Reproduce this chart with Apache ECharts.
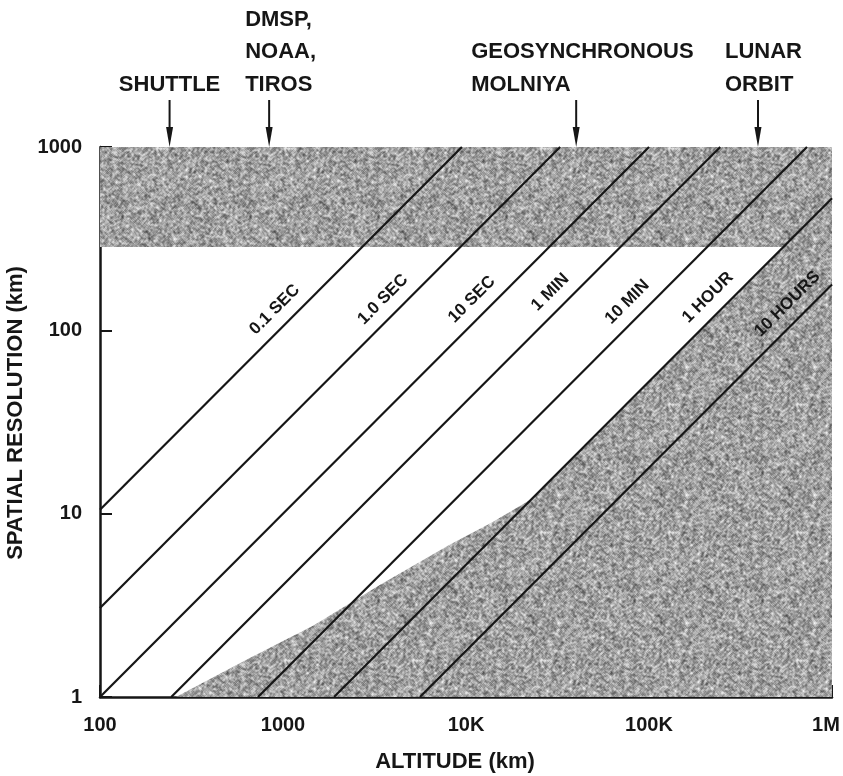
<!DOCTYPE html>
<html>
<head>
<meta charset="utf-8">
<title>Spatial resolution vs altitude</title>
<script src="https://cdn.jsdelivr.net/npm/echarts@6/dist/echarts.min.js"></script>
<style>
  html, body { margin: 0; padding: 0; background: #ffffff; }
  #chart { width: 843px; height: 776px; }
</style>
</head>
<body>
<div id="chart"></div>
<script>
// Lines of constant revisit/dwell time: each runs between two (altitude km, resolution km) points
const lineNames = ['0.1 SEC', '1.0 SEC', '10 SEC', '1 MIN', '10 MIN', '1 HOUR', '10 HOURS'];
const lineStart = [[100, 10.5], [100, 3.06], [100, 1], [245, 1], [730, 1], [1900, 1], [5600, 1]];
const lineEnd = [[9500, 1000], [32700, 1000], [100000, 1000], [245000, 1000], [730000, 1000], [1000000, 526], [1000000, 178]];
// resolution at which each line's caption sits
const labelRes = [111, 126, 126, 138, 122, 129, 119];

// Shaded (excluded) regions, as (altitude, resolution) outlines
const upperBand = [[100, 285], [1000000, 285], [1000000, 1000], [100, 1000]];
const lowerRegion = [[260, 1], [635, 1.6], [1460, 2.45], [3400, 4.1], [8000, 6.7], [14000, 9.0],
  [22500, 11.9], [541000, 285], [1000000, 285], [1000000, 1]];

// Orbit markers along the top edge
const orbitNames = ['SHUTTLE', 'DMSP,\nNOAA,\nTIROS', 'GEOSYNCHRONOUS\nMOLNIYA', 'LUNAR\nORBIT'];
const orbitAltitudes = [240, 840, 40000, 394000];

// Axis ticks
const xTickValues = [100, 1000, 10000, 100000, 1000000];
const xTickLabels = ['100', '1000', '10K', '100K', '1M'];
const yTickValues = [1, 10, 100, 1000];
const yTickLabels = ['1', '10', '100', '1000'];

const FONT = '"Liberation Sans", Arial, Helvetica, sans-serif';
const INK = '#161616';

// text placement of orbit captions relative to their arrow
const orbitTextStyle = [
  { dx: 0, align: 'center' },
  { dx: -24, align: 'left' },
  { dx: -105, align: 'left' },
  { dx: -33, align: 'left' }
];

// Halftone-like grey screen used for the shaded regions (deterministic hash grain)
function makeScreen() {
  const size = 128;
  const c = document.createElement('canvas');
  c.width = size; c.height = size;
  const ctx = c.getContext('2d');
  const img = ctx.createImageData(size, size);
  const hash = (x, y) => {
    let h = (Math.imul(x, 0x27d4eb2d) + Math.imul(y, 0x165667b1)) | 0;
    h = Math.imul(h ^ (h >>> 15), 0x85ebca6b);
    h = Math.imul(h ^ (h >>> 13), 0xc2b2ae35);
    h ^= h >>> 16;
    return (h >>> 0) / 4294967295;
  };
  const raw = [];
  for (let y = 0; y < size; y++) for (let x = 0; x < size; x++) raw.push(hash(x + 7, y + 13));
  for (let y = 0; y < size; y++) {
    for (let x = 0; x < size; x++) {
      // light smoothing so the grain clumps a little
      let s = 0;
      for (let dy = -1; dy <= 1; dy++) for (let dx = -1; dx <= 1; dx++) {
        const xx = (x + dx + size) % size, yy = (y + dy + size) % size;
        s += raw[yy * size + xx] * (dx === 0 && dy === 0 ? 3 : 1);
      }
      s /= 11;
      const v = Math.max(0, Math.min(255, Math.round(160 + (s - 0.5) * 230)));
      const k = (y * size + x) * 4;
      img.data[k] = img.data[k + 1] = img.data[k + 2] = v;
      img.data[k + 3] = 255;
    }
  }
  ctx.putImageData(img, 0, 0);
  return c;
}
const screenFill = { image: makeScreen(), repeat: 'repeat' };

function tickIndex(values, v) {
  const lv = Math.log10(v);
  let best = 0;
  values.forEach((t, i) => {
    if (Math.abs(Math.log10(t) - lv) < Math.abs(Math.log10(values[best]) - lv)) best = i;
  });
  return best;
}

// point on a line (in log space) at a given resolution
function altitudeOnLine(i, res) {
  const s = lineStart[i], e = lineEnd[i];
  const la0 = Math.log10(s[0]), la1 = Math.log10(e[0]);
  const lr0 = Math.log10(s[1]), lr1 = Math.log10(e[1]);
  const t = (Math.log10(res) - lr0) / (lr1 - lr0);
  return Math.pow(10, la0 + t * (la1 - la0));
}

const regions = [upperBand, lowerRegion];

const series = [];

series.push({
  type: 'custom',
  name: 'shade',
  silent: true,
  z: 1,
  data: regions.map((r, i) => [r[0][0], r[0][1], i]),
  renderItem: function (params, api) {
    const pts = regions[api.value(2)].map(p => api.coord(p));
    return {
      type: 'polygon',
      shape: { points: pts },
      style: { fill: screenFill, stroke: null }
    };
  }
});

lineNames.forEach((name, i) => {
  series.push({
    type: 'line',
    name: name,
    silent: true,
    z: 3,
    symbol: 'none',
    data: [lineStart[i], lineEnd[i]],
    lineStyle: { color: INK, width: 2.2 }
  });
});

series.push({
  type: 'custom',
  name: 'captions',
  silent: true,
  z: 4,
  data: lineNames.map((n, i) => [altitudeOnLine(i, labelRes[i]), labelRes[i], i]),
  renderItem: function (params, api) {
    const p = api.coord([api.value(0), api.value(1)]);
    return {
      type: 'text',
      x: p[0] - 12.5,
      y: p[1] - 12.5,
      rotation: Math.PI / 4,
      style: {
        text: lineNames[api.value(2)],
        font: 'bold 17px ' + FONT,
        fill: INK,
        align: 'center',
        verticalAlign: 'middle'
      }
    };
  }
});

series.push({
  type: 'custom',
  name: 'orbits',
  silent: true,
  z: 5,
  clip: false,
  data: orbitAltitudes.map((a, i) => [a, 1000, i]),
  renderItem: function (params, api) {
    const i = api.value(2);
    const tip = api.coord([api.value(0), api.value(1)]);
    const x = tip[0], y = tip[1];
    const st = orbitTextStyle[i];
    return {
      type: 'group',
      children: [
        { type: 'line', shape: { x1: x, y1: y - 47, x2: x, y2: y - 14 }, style: { stroke: INK, lineWidth: 2 } },
        { type: 'polygon', shape: { points: [[x - 3.5, y - 20], [x + 3.5, y - 20], [x, y]] }, style: { fill: INK } },
        {
          type: 'text', x: x + st.dx, y: y - 46,
          style: {
            text: orbitNames[i], font: 'bold 22px ' + FONT, fill: INK,
            align: st.align, verticalAlign: 'bottom', lineHeight: 32.5
          }
        }
      ]
    };
  }
});

const chart = echarts.init(document.getElementById('chart'), null, { renderer: 'canvas' });
chart.setOption({
  animation: false,
  backgroundColor: '#ffffff',
  grid: { left: 100, right: 11, top: 147, bottom: 79, containLabel: false, outerBoundsMode: 'none' },
  xAxis: {
    type: 'log',
    logBase: 10,
    min: 100,
    max: 1000000,
    name: 'ALTITUDE (km)',
    nameLocation: 'middle',
    nameGap: 54,
    nameTextStyle: { fontFamily: FONT, fontWeight: 'bold', fontSize: 22, color: INK, padding: [0, 22, 0, 0] },
    axisLine: { show: true, onZero: false, lineStyle: { color: INK, width: 2.5 } },
    axisTick: { show: true, inside: true, length: 12, lineStyle: { color: INK, width: 2 } },
    axisLabel: {
      show: true, margin: 18, fontFamily: FONT, fontWeight: 'bold', fontSize: 20, color: INK,
      showMinLabel: true, showMaxLabel: true, hideOverlap: false,
      formatter: v => {
        const i = tickIndex(xTickValues, v);
        return i === xTickValues.length - 1 ? '{edge|' + xTickLabels[i] + '}' : xTickLabels[i];
      },
      rich: {
        edge: { fontFamily: FONT, fontWeight: 'bold', fontSize: 20, color: INK, padding: [0, 12, 0, 0] }
      }
    },
    splitLine: { show: false },
    minorTick: { show: false }
  },
  yAxis: {
    type: 'log',
    logBase: 10,
    min: 1,
    max: 1000,
    name: 'SPATIAL RESOLUTION (km)',
    nameLocation: 'middle',
    nameGap: 67,
    nameRotate: 90,
    nameTextStyle: { fontFamily: FONT, fontWeight: 'bold', fontSize: 22, color: INK, padding: [0, 0, 0, 18] },
    axisLine: { show: true, onZero: false, lineStyle: { color: INK, width: 2.5 } },
    axisTick: { show: true, inside: true, length: 12, lineStyle: { color: INK, width: 2 } },
    axisLabel: {
      show: true, margin: 18, fontFamily: FONT, fontWeight: 'bold', fontSize: 20, color: INK,
      showMinLabel: true, showMaxLabel: true, hideOverlap: false,
      formatter: v => yTickLabels[tickIndex(yTickValues, v)]
    },
    splitLine: { show: false },
    minorTick: { show: false }
  },
  series: series
});
</script>
</body>
</html>
